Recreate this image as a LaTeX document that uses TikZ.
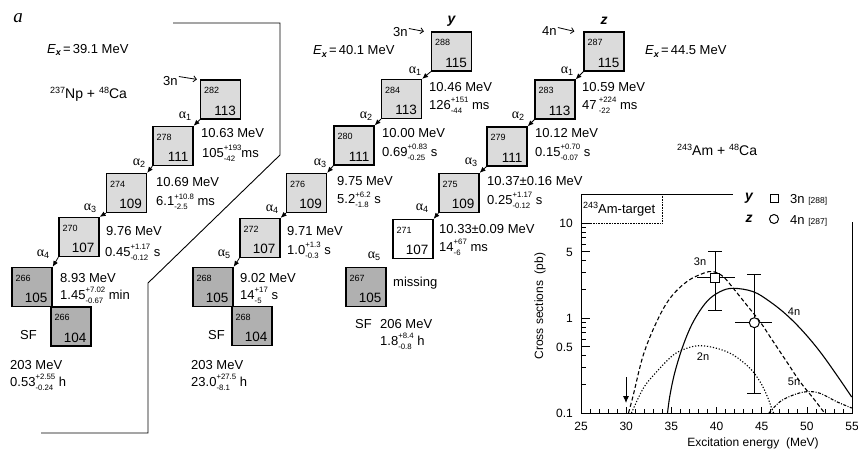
\documentclass[tikz,border=0pt]{standalone}
\usepackage{fontspec}
\setmainfont{Liberation Sans}
\newfontfamily\serifLS{Liberation Serif}
\usetikzlibrary{arrows.meta}
\newcommand\fs[1]{\fontsize{#1}{#1}\selectfont}
\newcommand\ue[2]{\begingroup\setbox0\hbox{\fs{7.8}#1}\setbox2\hbox{\fs{7.8}#2}\dimen0=\wd0 \ifdim\wd2>\dimen0 \dimen0=\wd2 \fi\raise6.5pt\hbox to 0pt{\box0\hss}\lower4pt\hbox to 0pt{\box2\hss}\hskip\dimen0\endgroup}
\newcommand\alf[1]{{\serifLS α}\raisebox{-2.5pt}{\fs{9}#1}}
\newcommand\sups[1]{\raisebox{5pt}{\fs{9}#1}}
\newcommand\Ex{{\itshape E}\raisebox{-2.5pt}{\fs{9}\bfseries\itshape x}\,=\,}
\tikzset{
  nbox/.style={draw, line width=1.2pt, minimum width=40pt, minimum height=39pt, inner sep=0pt},
  lbox/.style={nbox, fill=gray!28},
  dbox/.style={nbox, fill=gray!62},
  wbox/.style={nbox, fill=white},
  massno/.style={font=\fs{9}, inner sep=0pt},
  zno/.style={font=\fs{13.5}, inner sep=0pt},
  txt/.style={font=\fs{13}, inner sep=0pt, anchor=base west},
  alab/.style={font=\fs{14}, inner sep=0pt},
  aarr/.style={-{Latex[length=6pt,width=5pt]}, line width=0.8pt},
  narr/.style={-{Straight Barb[length=3pt,width=6pt]}, line width=0.8pt},
  ptxt/.style={font=\fs{12}, inner sep=0pt},
  clab/.style={font=\fs{11}, inner sep=0pt},
  curve/.style={line width=1.1pt, smooth, tension=0.6},
}
\newcommand\nuc[6]{%
  \node[#4] (#1) at (#2,#3) {};
  \node[massno, anchor=north west] (#1m) at ([shift={(4,8)}]#1.north west) {#5};
  \node[zno, anchor=south east] (#1z) at ([shift={(-5,-4)}]#1.south east) {#6};
}
\begin{document}
\begin{tikzpicture}[x=1pt,y=-1pt]
\useasboundingbox (0,0) rectangle (858,452);
\fill[white] (0,0) rectangle (858,452);

\node[font=\fs{19}\serifLS\itshape, inner sep=0pt] (lbla) at (18,18) {a};

% enclosure
\draw[line width=0.9pt] (173,23) -- (280,23) -- (280,155) -- (148,283) -- (148,433) -- (41,433);

% ---------- chain 1 (Np) ----------
\node[txt] (ex1) at (47,53) {\Ex 39.1 MeV};
\node[txt, font=\fs{14}] (rx1) at (50,98) {\sups{237}Np + \sups{48}Ca};
\nuc{a1}{220.5}{99.5}{lbox}{282}{113}
\nuc{a2}{173}{146}{lbox}{278}{111}
\nuc{a3}{126.5}{193}{lbox}{274}{109}
\nuc{a4}{79}{237}{lbox}{270}{107}
\nuc{a5}{32}{287}{dbox}{266}{105}
\nuc{a6}{71}{326.5}{dbox}{266}{104}
\node[txt] (n1) at (163,85) {3n};
\draw[narr] (n1.east) ++(1,-4) -- ([xshift=-3pt]a1.north west);
\draw[aarr] (a1.south west) -- (a2.north east);
\draw[aarr] (a2.south west) -- (a3.north east);
\draw[aarr] (a3.south west) -- (a4.north east);
\draw[aarr] (a4.south west) -- (a5.north east);
\node[alab] (al11) at (185,116) {\alf{1}};
\node[alab] (al12) at (139,163) {\alf{2}};
\node[alab] (al13) at (90,208) {\alf{3}};
\node[alab] (al14) at (43,254) {\alf{4}};
\node[txt] (e11) at (201,137.5) {10.63 MeV};
\node[txt] (t11) at (202,157) {105\ue{+193}{-42}ms};
\node[txt] (e12) at (156,186.5) {10.69 MeV};
\node[txt] (t12) at (156,205.5) {6.1\ue{+10.8}{-2.5} ms};
\node[txt] (e13) at (106,235) {9.76 MeV};
\node[txt] (t13) at (105,256) {0.45\ue{+1.17}{-0.12} s};
\node[txt] (e14) at (60,282) {8.93 MeV};
\node[txt] (t14) at (60,299) {1.45\ue{+7.02}{-0.67} min};
\node[txt] (sf1) at (20,339) {SF};
\node[txt] (f11) at (10,369) {203 MeV};
\node[txt] (f12) at (10,386) {0.53\ue{+2.55}{-0.24} h};

% ---------- chain 2 (y) ----------
\node[txt] (ex2) at (313,55) {\Ex 40.1 MeV};
\node[font=\fs{14}\bfseries\itshape, inner sep=0pt] (ly) at (451.5,21) {y};
\nuc{b1}{451.5}{51.5}{lbox}{288}{115}
\nuc{b2}{401.5}{99}{lbox}{284}{113}
\nuc{b3}{354}{145.5}{lbox}{280}{111}
\nuc{b4}{306.5}{193}{lbox}{276}{109}
\nuc{b5}{260}{238}{lbox}{272}{107}
\nuc{b6}{213}{287}{dbox}{268}{105}
\nuc{b7}{252}{326}{dbox}{268}{104}
\node[txt] (n2) at (393,37) {3n};
\draw[narr] (n2.east) ++(1,-4) -- ([xshift=-7pt]b1.north west);
\draw[aarr] (b1.south west) -- (b2.north east);
\draw[aarr] (b2.south west) -- (b3.north east);
\draw[aarr] (b3.south west) -- (b4.north east);
\draw[aarr] (b4.south west) -- (b5.north east);
\draw[aarr] (b5.south west) -- (b6.north east);
\node[alab] (al21) at (415,71) {\alf{1}};
\node[alab] (al22) at (366,116) {\alf{2}};
\node[alab] (al23) at (320,163) {\alf{3}};
\node[alab] (al24) at (272,209) {\alf{4}};
\node[alab] (al25) at (224,254) {\alf{5}};
\node[txt] (e21) at (429,91) {10.46 MeV};
\node[txt] (t21) at (429,109) {126\ue{+151}{-44} ms};
\node[txt] (e22) at (382,137) {10.00 MeV};
\node[txt] (t22) at (382,156) {0.69\ue{+0.83}{-0.25} s};
\node[txt] (e23) at (337,185) {9.75 MeV};
\node[txt] (t23) at (337,203.5) {5.2\ue{+6.2}{-1.8} s};
\node[txt] (e24) at (287,235) {9.71 MeV};
\node[txt] (t24) at (287,254) {1.0\ue{+1.3}{-0.3} s};
\node[txt] (e25) at (240,282) {9.02 MeV};
\node[txt] (t25) at (240,299) {14\ue{+17}{-5} s};
\node[txt] (sf2) at (208,339) {SF};
\node[txt] (f21) at (191,369) {203 MeV};
\node[txt] (f22) at (191,386) {23.0\ue{+27.5}{-8.1} h};

% ---------- chain 3 (z) ----------
\node[txt] (ex3) at (645,55) {\Ex 44.5 MeV};
\node[font=\fs{14}\bfseries\itshape, inner sep=0pt] (lz) at (604,21) {z};
\nuc{c1}{604}{51.5}{lbox}{287}{115}
\nuc{c2}{555}{99.5}{lbox}{283}{113}
\nuc{c3}{507}{146.5}{lbox}{279}{111}
\nuc{c4}{459}{193}{lbox}{275}{109}
\nuc{c5}{413}{239}{wbox}{271}{107}
\nuc{c6}{366}{287}{dbox}{267}{105}
\node[txt] (n3) at (542,36) {4n};
\draw[narr] (n3.east) ++(1,-4) -- ([xshift=-9pt]c1.north west);
\draw[aarr] (c1.south west) -- (c2.north east);
\draw[aarr] (c2.south west) -- (c3.north east);
\draw[aarr] (c3.south west) -- (c4.north east);
\draw[aarr] (c4.south west) -- (c5.north east);
\node[alab] (al31) at (567,71) {\alf{1}};
\node[alab] (al32) at (518,116) {\alf{2}};
\node[alab] (al33) at (471,162) {\alf{3}};
\node[alab] (al34) at (422,208) {\alf{4}};
\node[alab] (al35) at (374,256) {\alf{5}};
\node[txt] (e31) at (582,91) {10.59 MeV};
\node[txt] (t31) at (582,109) {47\,\ue{+224}{-22} ms};
\node[txt] (e32) at (535,137) {10.12 MeV};
\node[txt] (t32) at (535,156) {0.15\ue{+0.70}{-0.07} s};
\node[txt] (e33) at (487,185) {10.37±0.16 MeV};
\node[txt] (t33) at (487,204) {0.25\ue{+1.17}{-0.12} s};
\node[txt] (e34) at (439,233) {10.33±0.09 MeV};
\node[txt] (t34) at (439,251) {14\ue{+67}{-6} ms};
\node[txt] (mis) at (393,286) {missing};
\node[txt] (sf3) at (355,328) {SF};
\node[txt] (f31) at (380,328) {206 MeV};
\node[txt] (f32) at (380,345) {1.8\ue{+8.4}{-0.8} h};

\node[txt, font=\fs{14}] (rx2) at (677,155) {\sups{243}Am + \sups{48}Ca};

% ---------- plot ----------
\draw[line width=0.9pt] (662,194) -- (581,194) -- (581,413) -- (852,413) -- (852,222);
\draw[line width=0.9pt] (662,194) -- (733,194);
\draw[densely dotted, line width=0.6pt] (662,194) -- (662,223) -- (581,223);
\node[font=\fs{13}, inner sep=0pt, anchor=base west] (tgt) at (583,213) {\sups{243}Am-target};

% legend
\node[font=\fs{14}\bfseries\itshape, inner sep=0pt] (gy) at (749,198) {y};
\node[draw, line width=1pt, minimum size=8pt, inner sep=0pt] (gsq) at (774,198) {};
\node[font=\fs{13}, inner sep=0pt, anchor=base west] (g3n) at (790,203) {3n {\fs{8.5}[288]}};
\node[font=\fs{14}\bfseries\itshape, inner sep=0pt] (gz) at (749,219) {z};
\node[draw, circle, line width=1pt, minimum size=9pt, inner sep=0pt] (gci) at (774,219) {};
\node[font=\fs{13}, inner sep=0pt, anchor=base west] (g4n) at (790,224) {4n {\fs{8.5}[287]}};

% x ticks
\foreach \e in {26,...,54} { \draw[line width=0.7pt] ({355.2+9.033*\e},413) -- ++(0,-4); }
\foreach \e in {30,35,...,50} { \draw[line width=0.7pt] ({355.2+9.033*\e},413) -- ++(0,-6); }
\foreach \e in {25,30,...,55} { \node[ptxt, anchor=north] at ({355.2+9.033*\e},422) {\e}; }
% y ticks
\foreach \v in {0.2,0.3,0.4,0.6,0.7,0.8,0.9,2,3,4,6,7,8,9} { \draw[line width=0.7pt] (581,{318-95*ln(\v)/ln(10)}) -- ++(5,0); }
\foreach \v in {0.5,1,5,10} { \draw[line width=0.7pt] (581,{318-95*ln(\v)/ln(10)}) -- ++(9,0); }
\node[ptxt, anchor=east] (yl10) at (573,223) {10};
\node[ptxt, anchor=east] (yl5) at (573,252) {5};
\node[ptxt, anchor=east] (yl1) at (573,318) {1};
\node[ptxt, anchor=east] (yl05) at (573,347) {0.5};
\node[ptxt, anchor=east] (yl01) at (573,413) {0.1};
\node[ptxt, rotate=90] (ylab) at (540,306) {Cross sections\ \ (pb)};
\node[ptxt] (xlab) at (753,443) {Excitation energy\ \ (MeV)};

% curves
\draw[curve, dash pattern=on 4pt off 2.5pt] plot coordinates {(628.5,413) (633.3,395) (643.3,355) (656.7,321.7) (670,298.3) (686.7,281.7) (703.3,273.3) (713.3,271.7) (723.3,276.7) (733.3,288.3) (746.7,305) (760,321.7) (773.3,341.7) (786.7,361.7) (800,381.7) (813.3,398.3) (824.5,413)};
\draw[curve] plot coordinates {(667.5,413) (670,395) (675,371.7) (683.3,345) (693.3,321.7) (706.7,301.7) (720,291.7) (733.3,288.3) (753.3,291.7) (770,301.7) (786.7,315) (803.3,331.7) (820,351.7) (836.7,375) (851.7,397)};
\draw[curve, dash pattern=on 1.2pt off 1.8pt] plot coordinates {(631.5,413) (643.3,388.3) (656.7,371.7) (673.3,355) (686.7,348.3) (700,345.7) (716.7,348.3) (733.3,355) (750,368.3) (760,381.7) (766.7,395) (771.7,408.3) (773.5,413)};
\draw[curve, dash pattern=on 3pt off 1.5pt on 1pt off 1.5pt] plot coordinates {(769,413) (780,401.7) (793.3,395) (806.7,391.7) (820,393.3) (836.7,401.7) (851.7,408)};

\node[clab] (c3n) at (700,262) {3n};
\node[clab] (c4n) at (794,312) {4n};
\node[clab] (c2n) at (703,357) {2n};
\node[clab] (c5n) at (794,382) {5n};

% error bars
\draw[line width=1pt] (715,251) -- (715,310) (708,251) -- (722,251) (708,310) -- (722,310) (697,277.7) -- (735,277.7);
\draw[line width=1pt] (754.3,274) -- (754.3,393.3) (747.3,274) -- (761.3,274) (747.3,393.3) -- (761.3,393.3) (735,322.7) -- (772.3,322.7);
\node[draw, fill=white, line width=1pt, minimum size=9pt, inner sep=0pt] (psq) at (715,277.7) {};
\node[draw, circle, fill=white, line width=1pt, minimum size=10pt, inner sep=0pt] (pci) at (754.3,322.7) {};

% arrow at 30 MeV
\coordinate (arT) at (626,377);
\coordinate (arH) at (626,403);
\draw[-{Latex[length=7pt,width=6pt]}, line width=0.9pt] (arT) -- (arH);
\end{tikzpicture}
\end{document}
